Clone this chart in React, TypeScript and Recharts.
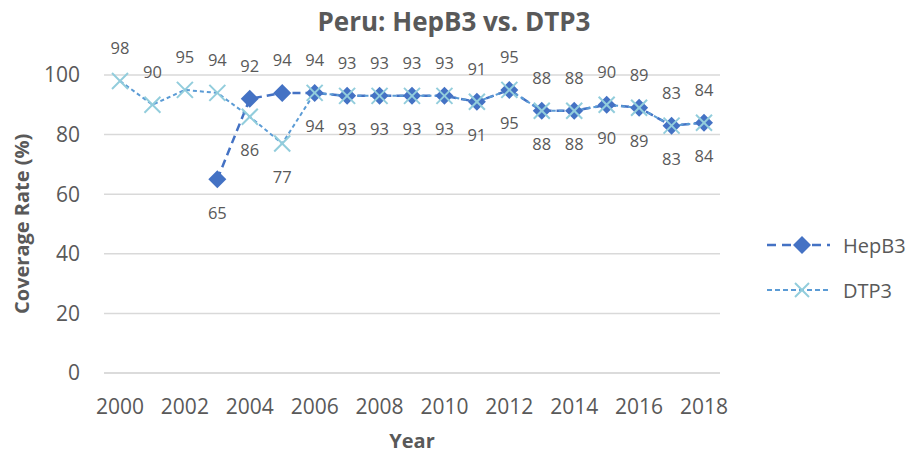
import { CartesianGrid, LabelList, Line, LineChart, XAxis, YAxis } from "recharts";

const years = [2000, 2001, 2002, 2003, 2004, 2005, 2006, 2007, 2008, 2009, 2010, 2011, 2012, 2013, 2014, 2015, 2016, 2017, 2018];
const hepB3 = [null, null, null, 65, 92, 94, 94, 93, 93, 93, 93, 91, 95, 88, 88, 90, 89, 83, 84];
const dtp3 = [98, 90, 95, 94, 86, 77, 94, 93, 93, 93, 93, 91, 95, 88, 88, 90, 89, 83, 84];
const yTicks = [0, 20, 40, 60, 80, 100];

const data = years.map((year, i) => ({ year, hepB3: hepB3[i], dtp3: dtp3[i] }));

const FONT = "'Open Sans', sans-serif";
const GREY = "#595959";
const HEP_COLOR = "#4472C4";
const DTP_LINE = "#5B9BD5";
const DTP_MARK = "#92CDDC";

const Diamond = ({ cx, cy, value }: any) => {
    if (value == null || cx == null) return null;
    const r = 9;
    return <polygon points={`${cx},${cy - r} ${cx + r},${cy} ${cx},${cy + r} ${cx - r},${cy}`} fill={HEP_COLOR} />;
};

const Cross = ({ cx, cy, value }: any) => {
    if (value == null || cx == null) return null;
    const r = 8;
    return (
        <g stroke={DTP_MARK} strokeWidth={2}>
            <line x1={cx - r} y1={cy - r} x2={cx + r} y2={cy + r} />
            <line x1={cx - r} y1={cy + r} x2={cx + r} y2={cy - r} />
        </g>
    );
};

// label goes above when this series is higher than the other one, below otherwise
const makeLabel = (own: (number | null)[], other: (number | null)[], upOnTie: boolean) => (props: any) => {
    const { x, y, value, index } = props;
    if (value == null) return null;
    const o = other[index];
    const v = own[index] as number;
    const up = o == null || v > o || (v === o && upOnTie);
    return (
        <text x={x} y={up ? y - 33 : y + 33} textAnchor="middle" dominantBaseline="central"
            fontSize={16.5} fontFamily={FONT} fill={GREY}>
            {value}
        </text>
    );
};

const Legend = () => (
    <g fontFamily={FONT} fontSize={20} fill={GREY}>
        <line x1={767} y1={245} x2={830} y2={245} stroke={HEP_COLOR} strokeWidth={2.5} strokeDasharray="9 6" />
        <polygon points="802,236 811,245 802,254 793,245" fill={HEP_COLOR} />
        <text x={843} y={245} dominantBaseline="central">HepB3</text>
        <line x1={767} y1={290} x2={830} y2={290} stroke={DTP_LINE} strokeWidth={2} strokeDasharray="5 3" />
        <g stroke={DTP_MARK} strokeWidth={2}>
            <line x1={795} y1={283} x2={809} y2={297} />
            <line x1={795} y1={297} x2={809} y2={283} />
        </g>
        <text x={843} y={290} dominantBaseline="central">DTP3</text>
    </g>
);

export default function App() {
    return (
        <div style={{ position: "absolute", left: 0, top: 0, width: 908, height: 453, background: "#fff" }}>
            <LineChart width={908} height={453} data={data}
                margin={{ top: 75, right: 188, bottom: 0, left: 0 }}>
                <text x={454} y={21} textAnchor="middle" dominantBaseline="central"
                    fontSize={26} fontWeight="bold" fontFamily={FONT} fill={GREY}>
                    Peru: HepB3 vs. DTP3
                </text>
                <CartesianGrid vertical={false} stroke="#D9D9D9" strokeWidth={1.5} />
                <XAxis dataKey="year" interval={1} height={80} tickLine={false} padding={{ left: 16, right: 16 }}
                    axisLine={{ stroke: "#D9D9D9", strokeWidth: 1.5 }} tickMargin={20}
                    tick={{ fontSize: 21, fontFamily: FONT, fill: GREY }}
                    label={{ value: "Year", position: "insideBottom", offset: 5, fontSize: 20, fontWeight: "bold", fontFamily: FONT, fill: GREY }} />
                <YAxis domain={[0, 100]} ticks={yTicks} width={104} tickLine={false} axisLine={false}
                    tickMargin={18} tick={{ fontSize: 21, fontFamily: FONT, fill: GREY }}
                    label={{ value: "Coverage Rate (%)", angle: -90, position: "insideLeft", offset: 22, dy: 90, fontSize: 20, fontWeight: "bold", fontFamily: FONT, fill: GREY }} />
                <Line dataKey="hepB3" stroke={HEP_COLOR} strokeWidth={2.5} strokeDasharray="8 5"
                    dot={<Diamond />} activeDot={false} isAnimationActive={false}>
                    <LabelList dataKey="hepB3" content={makeLabel(hepB3, dtp3, false)} />
                </Line>
                <Line dataKey="dtp3" stroke={DTP_LINE} strokeWidth={2} strokeDasharray="4 3"
                    dot={<Cross />} activeDot={false} isAnimationActive={false}>
                    <LabelList dataKey="dtp3" content={makeLabel(dtp3, hepB3, true)} />
                </Line>
                <Legend />
            </LineChart>
        </div>
    );
}
